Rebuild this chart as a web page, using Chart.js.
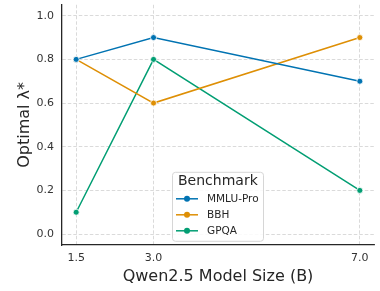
<!DOCTYPE html>
<html>
<head>
<meta charset="utf-8">
<script src="https://cdn.jsdelivr.net/npm/chart.js@4"></script>
<style>
  html, body { margin: 0; padding: 0; background: #fff; }
  #wrap { width: 380px; height: 291px; }
</style>
</head>
<body>
<div id="wrap"><canvas id="chart"></canvas></div>
<script>
// model sizes (B) and optimal lambda per benchmark
const modelSizes = [1.5, 3.0, 7.0];
const mmluPro = [0.8, 0.9, 0.7];
const bbh = [0.8, 0.6, 0.9];
const gpqa = [0.1, 0.8, 0.2];
const yTicks = [0.0, 0.2, 0.4, 0.6, 0.8, 1.0];

const colors = { blue: '#0173b2', orange: '#de8f05', green: '#029e73' };
const FONT = "'DejaVu Sans', sans-serif";

function series(label, values, color) {
    return {
        label: label,
        data: modelSizes.map((x, i) => ({ x: x, y: values[i] })),
        borderColor: color,
        backgroundColor: color,
        borderWidth: 1.5,
        pointRadius: 3,
        pointBorderWidth: 0.8,
        pointBorderColor: '#ffffff',
        tension: 0
    };
}

// legend drawn inside the plot, matplotlib style
const insideLegend = {
    id: 'insideLegend',
    afterDatasetsDraw(chart) {
        const c = chart.ctx;
        const area = chart.chartArea;
        const x0 = area.left + 110, y0 = area.top + 167;
        const w = 91, h = 69;
        c.save();
        c.fillStyle = 'rgba(255,255,255,0.85)';
        c.strokeStyle = '#d6d6d6';
        c.lineWidth = 1;
        c.beginPath();
        c.roundRect(x0 + 0.5, y0 + 0.5, w, h, 3);
        c.fill();
        c.stroke();
        c.fillStyle = '#262626';
        c.font = '14px ' + FONT;
        c.textBaseline = 'middle';
        c.textAlign = 'left';
        c.fillText('Benchmark', x0 + 6, y0 + 10);
        c.font = '10.5px ' + FONT;
        chart.data.datasets.forEach((ds, i) => {
            const y = y0 + 27 + i * 16;
            c.strokeStyle = ds.borderColor;
            c.lineWidth = 1.5;
            c.beginPath();
            c.moveTo(x0 + 4, y);
            c.lineTo(x0 + 26, y);
            c.stroke();
            c.fillStyle = ds.borderColor;
            c.beginPath();
            c.arc(x0 + 15, y, 3, 0, Math.PI * 2);
            c.fill();
            c.fillStyle = '#262626';
            c.fillText(ds.label, x0 + 35, y + 0.5);
        });
        c.restore();
    }
};

new Chart(document.getElementById('chart'), {
    type: 'line',
    data: {
        datasets: [
            series('MMLU-Pro', mmluPro, colors.blue),
            series('BBH', bbh, colors.orange),
            series('GPQA', gpqa, colors.green)
        ]
    },
    options: {
        responsive: true,
        maintainAspectRatio: false,
        animation: false,
        devicePixelRatio: 1,
        layout: { padding: { left: 15, top: 4, right: 6, bottom: 0 } },
        plugins: {
            legend: { display: false },
            tooltip: { enabled: false }
        },
        scales: {
            x: {
                type: 'linear',
                min: 1.225,
                max: 7.275,
                afterBuildTicks: (axis) => { axis.ticks = modelSizes.map(v => ({ value: v })); },
                afterFit: (axis) => {
                    axis.height = 46;
                    axis.paddingLeft = 0;
                    axis.paddingRight = 0;
                },
                grid: {
                    color: '#d0d0d0',
                    lineWidth: 0.8,
                    drawTicks: false
                },
                border: { display: true, color: '#262626', width: 1.3, dash: [3.5, 2] },
                ticks: {
                    color: '#333333',
                    font: { family: FONT, size: 11 },
                    padding: 7,
                    maxRotation: 0,
                    callback: (v) => v.toFixed(1)
                },
                title: {
                    display: true,
                    text: 'Qwen2.5 Model Size (B)',
                    color: '#262626',
                    font: { family: FONT, size: 16 },
                    padding: { top: 1, bottom: 5 }
                }
            },
            y: {
                type: 'linear',
                min: -0.05,
                max: 1.05,
                afterBuildTicks: (axis) => { axis.ticks = yTicks.map(v => ({ value: v })); },
                afterFit: (axis) => {
                    axis.width = 47;
                    // don't let the 1.0 label push the plot down
                    axis.paddingTop = 0;
                    axis.paddingBottom = 0;
                },
                grid: {
                    color: '#d0d0d0',
                    lineWidth: 0.8,
                    drawTicks: false
                },
                border: { display: true, color: '#262626', width: 1.3, dash: [3.5, 2] },
                ticks: {
                    color: '#333333',
                    font: { family: FONT, size: 11 },
                    padding: 8,
                    callback: (v) => v.toFixed(1)
                },
                title: {
                    display: true,
                    text: 'Optimal λ*',
                    color: '#262626',
                    font: { family: FONT, size: 16 },
                    padding: { top: 0, bottom: 4 }
                }
            }
        }
    },
    plugins: [insideLegend]
});
</script>
</body>
</html>
